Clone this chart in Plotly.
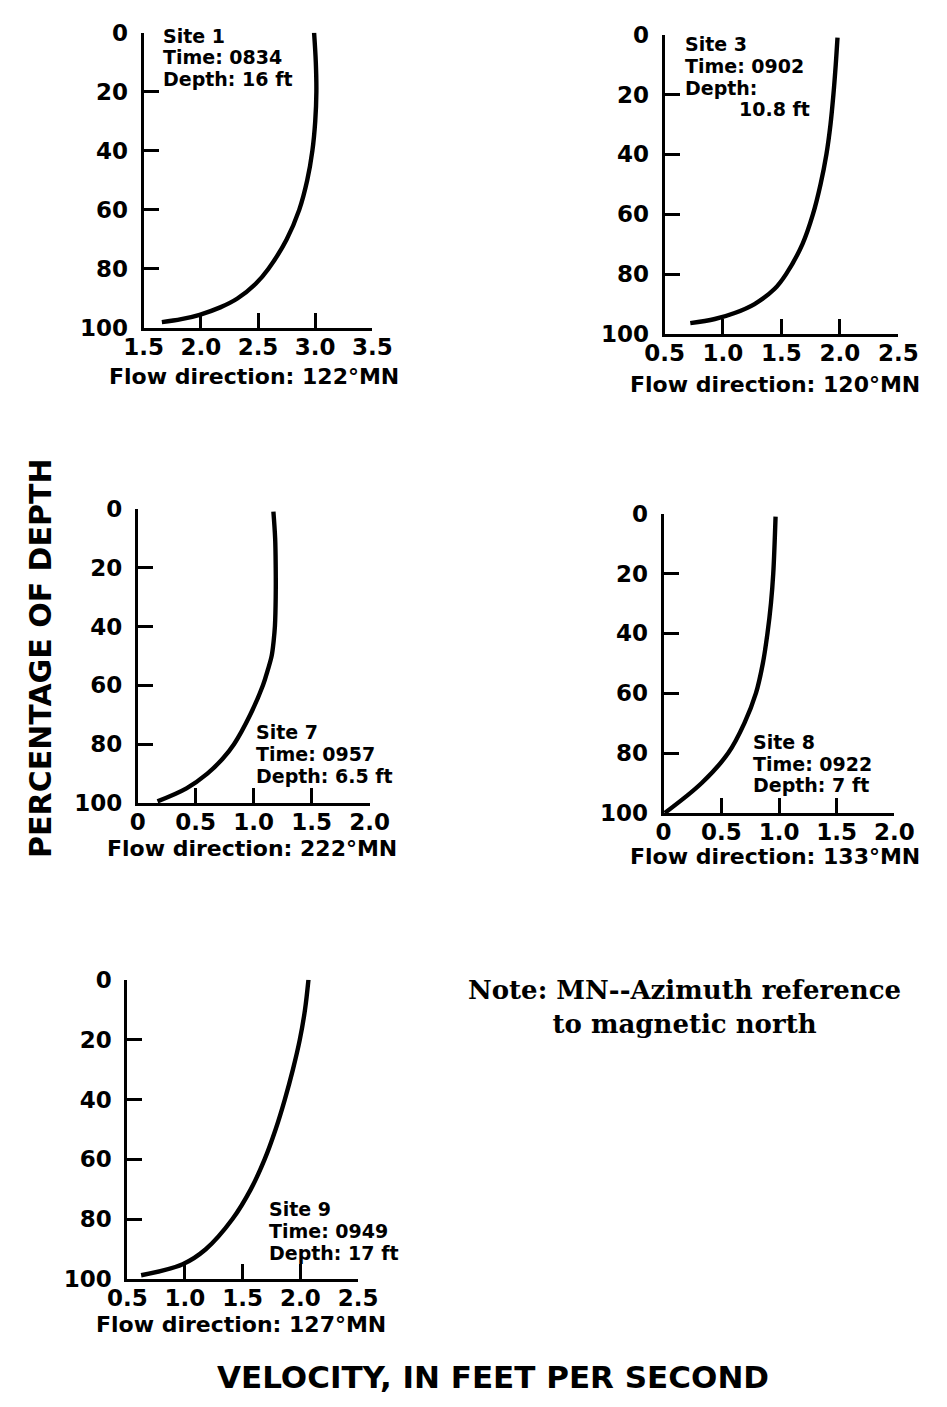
import plotly.graph_objects as go

W, H = 947, 1407

# ---------------- data ----------------
site_names = ["Site 1", "Site 3", "Site 7", "Site 8", "Site 9"]
site_times = ["0834", "0902", "0957", "0922", "0949"]
site_depths = ["16 ft", "10.8 ft", "6.5 ft", "7 ft", "17 ft"]
flow_dirs = ["122", "120", "222", "133", "127"]

depth_1 = [0, 10, 20, 30, 40, 50, 60, 70, 80, 85, 90, 93, 95.5, 97, 98]
vel_1 = [2.99, 3.005, 3.01, 3.0, 2.975, 2.93, 2.86, 2.75, 2.59, 2.48, 2.32, 2.17, 1.99, 1.83, 1.66]

depth_3 = [1, 10, 20, 30, 40, 50, 60, 70, 80, 85, 90, 93, 95, 96.4]
vel_3 = [1.98, 1.965, 1.945, 1.92, 1.885, 1.835, 1.77, 1.68, 1.54, 1.44, 1.27, 1.10, 0.93, 0.72]

depth_7 = [1, 10, 20, 30, 40, 45, 50, 55, 60, 70, 80, 85, 90, 95, 99.4]
vel_7 = [1.17, 1.185, 1.19, 1.19, 1.183, 1.172, 1.155, 1.12, 1.08, 0.97, 0.83, 0.73, 0.60, 0.42, 0.17]

depth_8 = [1, 20, 30, 40, 50, 60, 70, 80, 90, 100]
vel_8 = [0.97, 0.95, 0.93, 0.90, 0.86, 0.80, 0.70, 0.56, 0.33, 0.01]

depth_9 = [0, 10, 20, 30, 40, 50, 60, 70, 80, 90, 95, 98.7]
vel_9 = [2.07, 2.04, 1.995, 1.935, 1.865, 1.785, 1.69, 1.57, 1.41, 1.18, 0.98, 0.62]

depths = [depth_1, depth_3, depth_7, depth_8, depth_9]
vels = [vel_1, vel_3, vel_7, vel_8, vel_9]

x_ticks_1 = [1.5, 2.0, 2.5, 3.0, 3.5]
x_ticks_3 = [0.5, 1.0, 1.5, 2.0, 2.5]
x_ticks_7 = [0, 0.5, 1.0, 1.5, 2.0]
x_ticks_8 = [0, 0.5, 1.0, 1.5, 2.0]
x_ticks_9 = [0.5, 1.0, 1.5, 2.0, 2.5]
x_ticks = [x_ticks_1, x_ticks_3, x_ticks_7, x_ticks_8, x_ticks_9]
y_ticks = [0, 20, 40, 60, 80, 100]

# ---------------- layout geometry (pixels) ----------------
# plot boxes: left, right, top, bottom
boxes = [
    (129, 368, 20, 321),
    (673, 917, 22, 327),
    (123, 365, 505, 805),
    (672, 913, 510, 815),
    (112, 353, 985, 1290),
]
# site-label blocks: left x, centre y of first line
label_pos = [(147, 23), (692, 32), (244, 733), (763, 743), (258, 1219)]
LINE_STEP = 22
flow_pos = [(244, 370), (788, 379), (242, 851), (788, 859), (231, 1336)]


def fx(p):
    return p / W


def fy(p):
    return 1 - p / H


def fmt(v):
    return "0" if v == 0 else f"{v:.1f}"


SANS = "DejaVu Sans"
fig = go.Figure()
annotations = []

for i in range(5):
    n = "" if i == 0 else str(i + 1)
    l, r, t, b = boxes[i]
    fig.add_trace(go.Scatter(
        x=vels[i], y=depths[i], mode="lines",
        line=dict(color="black", width=4.4, shape="spline", smoothing=1.0),
        xaxis="x" + n, yaxis="y" + n, showlegend=False, hoverinfo="skip",
    ))
    common = dict(
        showline=True, linecolor="black", linewidth=3, ticks="inside",
        ticklen=15, tickwidth=2.6, tickcolor="black", showgrid=False,
        zeroline=False, tickfont=dict(family=SANS, size=23, color="black", weight="bold"),
    )
    fig.layout["xaxis" + n] = dict(
        domain=[fx(l), fx(r)], anchor="y" + n, range=[x_ticks[i][0], x_ticks[i][-1]],
        tickvals=x_ticks[i], ticktext=[fmt(v) for v in x_ticks[i]],
        ticklabelstandoff=-4, **common,
    )
    fig.layout["yaxis" + n] = dict(
        domain=[fy(b), fy(t)], anchor="x" + n, range=[100, 0],
        tickvals=y_ticks, ticktext=[str(v) for v in y_ticks],
        ticklabelstandoff=8, **common,
    )

    lx, ly = label_pos[i]
    lines = [site_names[i], "Time: " + site_times[i]]
    if i == 1:
        lines += ["Depth:"]
    else:
        lines += ["Depth: " + site_depths[i]]
    for k, txt in enumerate(lines):
        annotations.append(dict(
            text="<b>" + txt + "</b>", x=fx(lx), y=fy(ly + k * LINE_STEP),
            xref="paper", yref="paper", xanchor="left", yanchor="middle",
            showarrow=False, font=dict(family=SANS, size=19, color="black"),
        ))
    if i == 1:
        annotations.append(dict(
            text="<b>" + site_depths[i] + "</b>", x=fx(749), y=fy(ly + 3 * LINE_STEP),
            xref="paper", yref="paper", xanchor="left", yanchor="middle",
            showarrow=False, font=dict(family=SANS, size=19, color="black"),
        ))
    fxp, fyp = flow_pos[i]
    annotations.append(dict(
        text="<b>Flow direction: " + flow_dirs[i] + "°MN</b>", x=fx(fxp), y=fy(fyp),
        xref="paper", yref="paper", xanchor="center", yanchor="middle", showarrow=False,
        font=dict(family=SANS, size=22, color="black"),
    ))

annotations.append(dict(
    text="<b>PERCENTAGE OF DEPTH</b>", x=fx(22), y=fy(657), xref="paper", yref="paper",
    xanchor="center", yanchor="middle", textangle=-90, showarrow=False,
    font=dict(family=SANS, size=30, color="black"),
))
annotations.append(dict(
    text="<b>VELOCITY, IN FEET PER SECOND</b>", x=fx(494), y=fy(1390), xref="paper",
    yref="paper", xanchor="center", yanchor="middle", showarrow=False,
    font=dict(family=SANS, size=31, color="black"),
))
annotations.append(dict(
    text="<b>Note: MN--Azimuth reference<br>to magnetic north</b>", x=fx(694), y=fy(1013),
    xref="paper", yref="paper", xanchor="center", yanchor="middle", align="center",
    showarrow=False, font=dict(family="DejaVu Serif", size=26, color="black"),
))

fig.update_layout(
    width=W, height=H, margin=dict(l=0, r=0, t=0, b=0, pad=0),
    paper_bgcolor="white", plot_bgcolor="white", annotations=annotations,
)

fig.write_html(
    "out.html",
    config={"displayModeBar": False},
    post_script="document.body.style.margin='0';document.body.style.overflow='hidden';",
)
